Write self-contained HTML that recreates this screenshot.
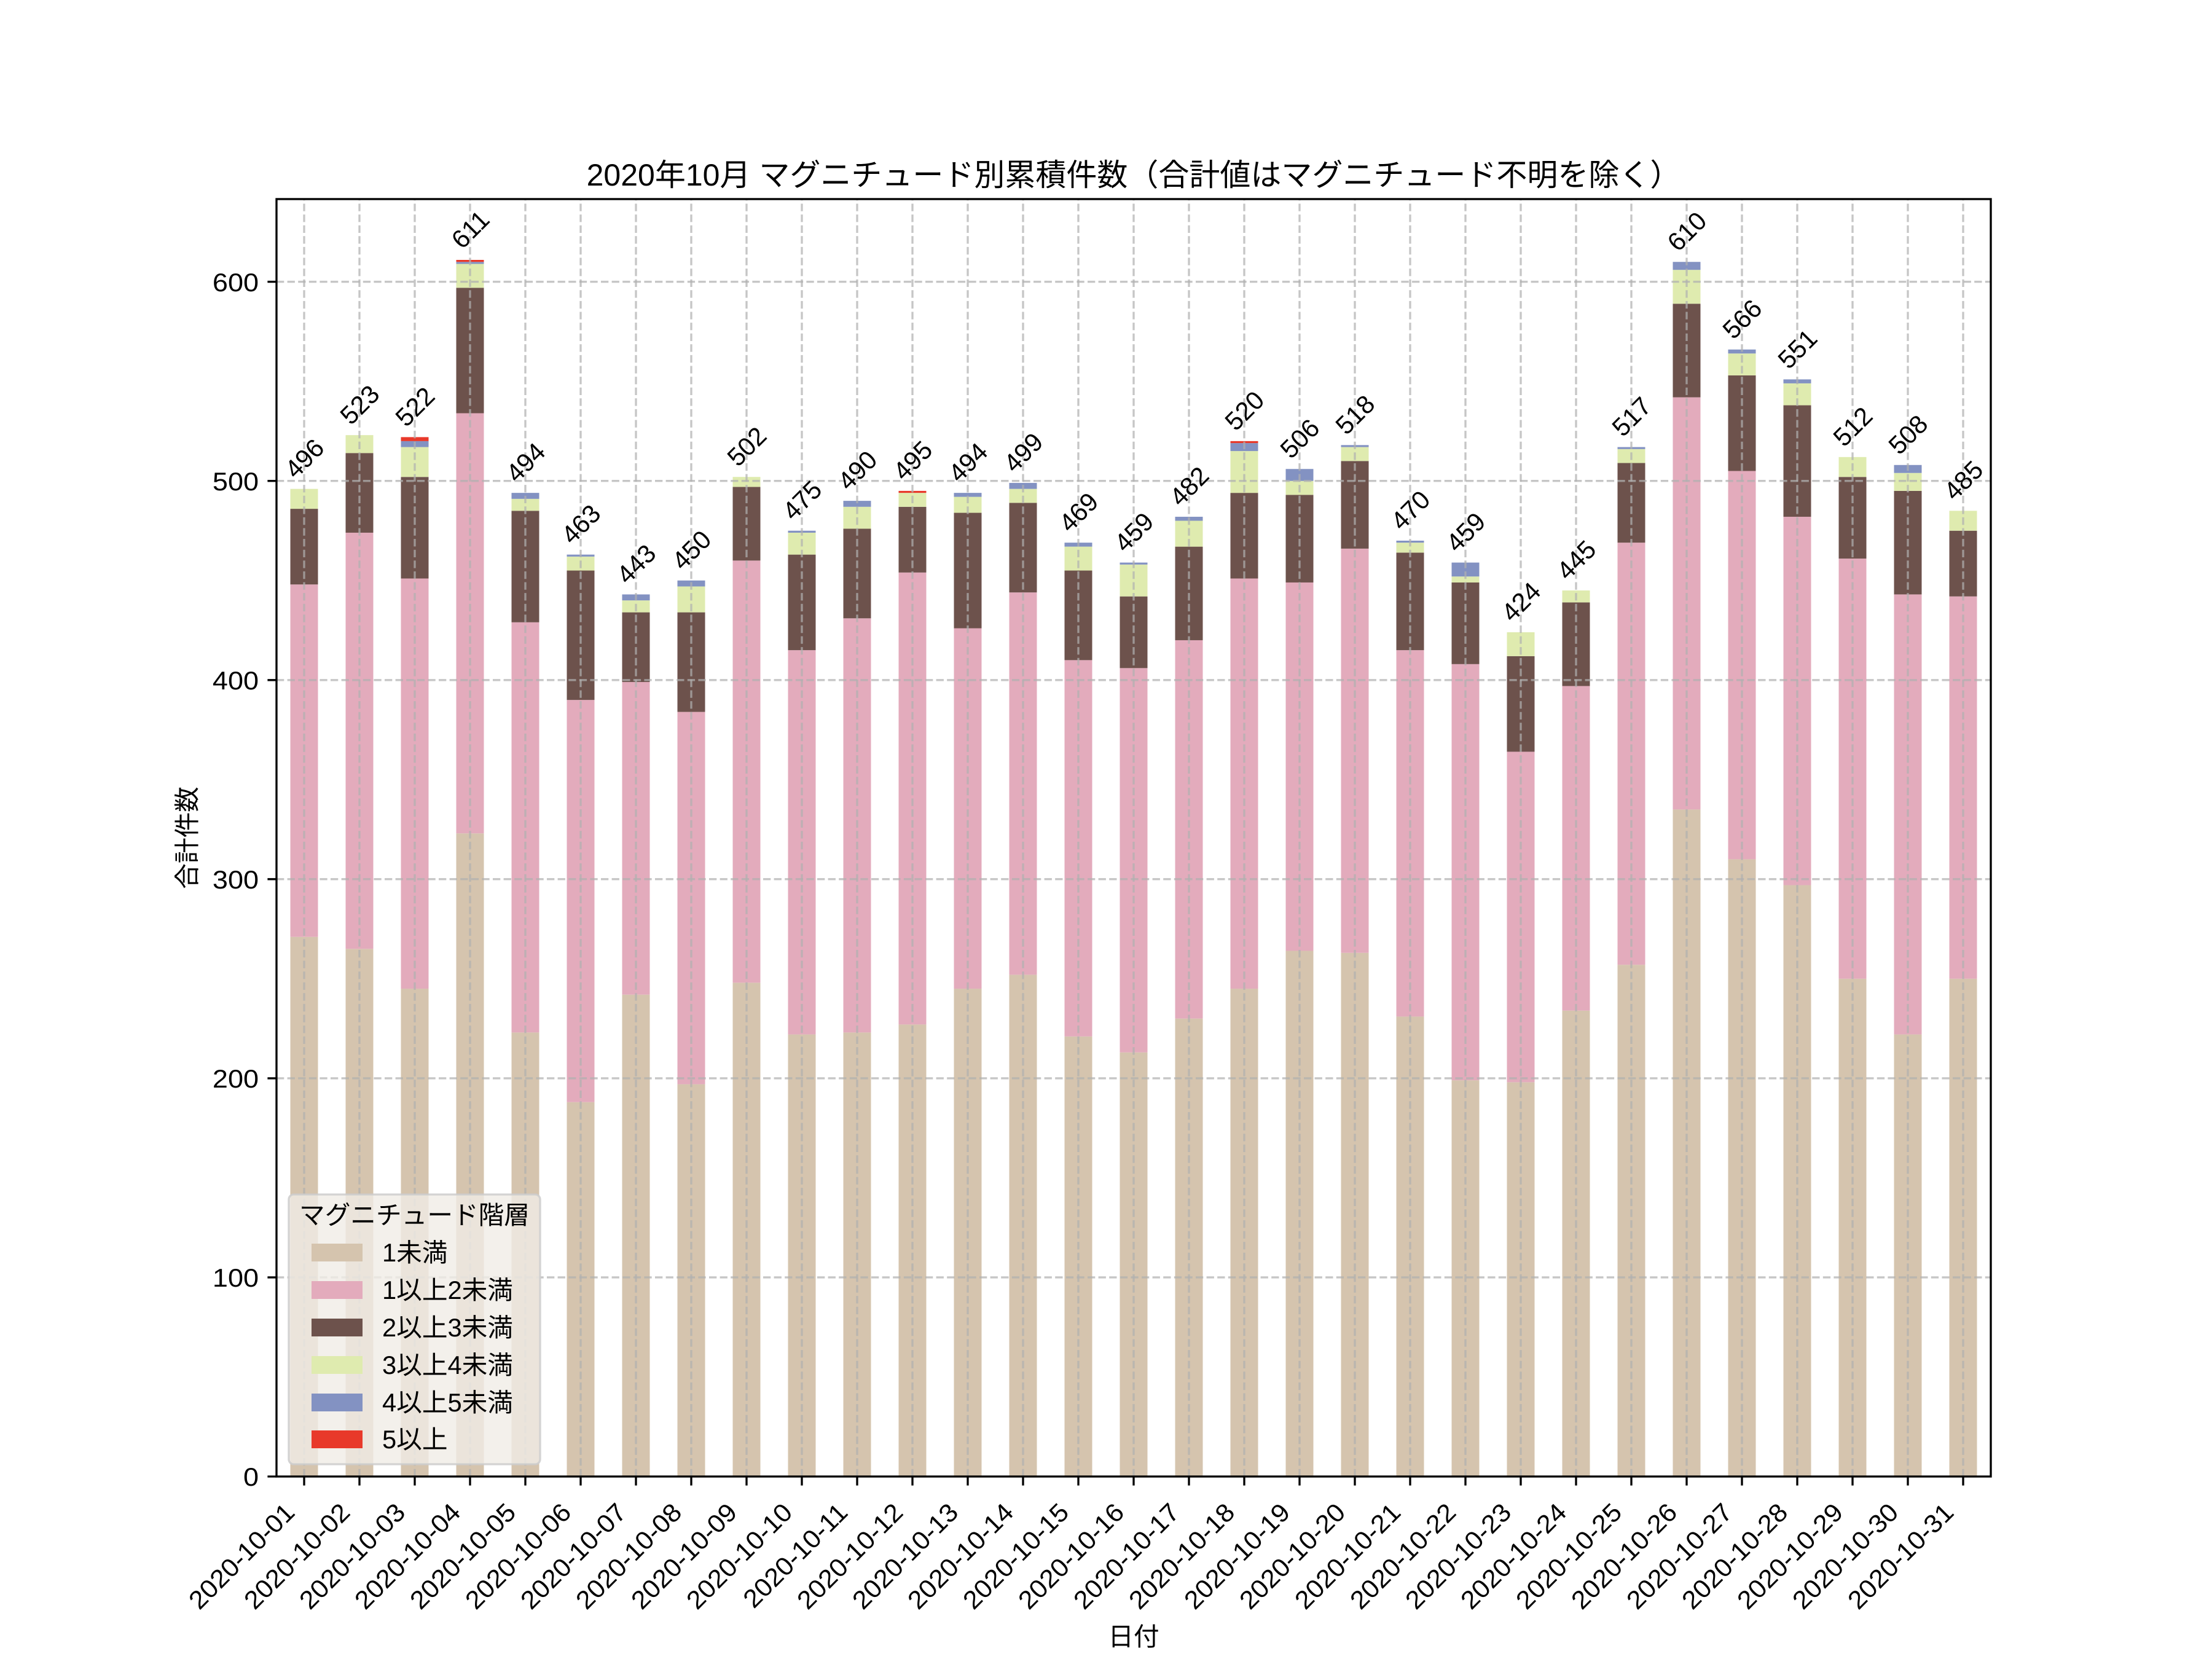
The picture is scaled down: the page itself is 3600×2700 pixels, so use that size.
<!DOCTYPE html>
<html><head><meta charset="utf-8">
<style>
html,body{margin:0;padding:0;background:#fff;}
svg{display:block;}
text{font-family:"Liberation Sans","Noto Sans CJK JP",sans-serif;fill:#000;}
.a{fill:#d5c4ae}.b{fill:#e3abbc}.c{fill:#6d524c}.d{fill:#dfebaf}.e{fill:#8392c2}.f{fill:#e8392a}
.t{font-size:41.67px}
</style></head>
<body>
<svg width="3600" height="2700" viewBox="0 0 3600 2700" xmlns="http://www.w3.org/2000/svg">
<rect x="0" y="0" width="3600" height="2700" fill="#fff"/>
<!-- bars -->
<g transform="translate(495,2403) scale(90,-3.2406)">
<rect class="a" x="-0.25" y="0" width="0.5" height="271"/><rect class="b" x="-0.25" y="271" width="0.5" height="177"/><rect class="c" x="-0.25" y="448" width="0.5" height="38"/><rect class="d" x="-0.25" y="486" width="0.5" height="10"/>
<rect class="a" x="0.75" y="0" width="0.5" height="265"/><rect class="b" x="0.75" y="265" width="0.5" height="209"/><rect class="c" x="0.75" y="474" width="0.5" height="40"/><rect class="d" x="0.75" y="514" width="0.5" height="9"/>
<rect class="a" x="1.75" y="0" width="0.5" height="245"/><rect class="b" x="1.75" y="245" width="0.5" height="206"/><rect class="c" x="1.75" y="451" width="0.5" height="51"/><rect class="d" x="1.75" y="502" width="0.5" height="15"/><rect class="e" x="1.75" y="517" width="0.5" height="3"/><rect class="f" x="1.75" y="520" width="0.5" height="2"/>
<rect class="a" x="2.75" y="0" width="0.5" height="323"/><rect class="b" x="2.75" y="323" width="0.5" height="211"/><rect class="c" x="2.75" y="534" width="0.5" height="63"/><rect class="d" x="2.75" y="597" width="0.5" height="12"/><rect class="e" x="2.75" y="609" width="0.5" height="1"/><rect class="f" x="2.75" y="610" width="0.5" height="1"/>
<rect class="a" x="3.75" y="0" width="0.5" height="223"/><rect class="b" x="3.75" y="223" width="0.5" height="206"/><rect class="c" x="3.75" y="429" width="0.5" height="56"/><rect class="d" x="3.75" y="485" width="0.5" height="6"/><rect class="e" x="3.75" y="491" width="0.5" height="3"/>
<rect class="a" x="4.75" y="0" width="0.5" height="188"/><rect class="b" x="4.75" y="188" width="0.5" height="202"/><rect class="c" x="4.75" y="390" width="0.5" height="65"/><rect class="d" x="4.75" y="455" width="0.5" height="7"/><rect class="e" x="4.75" y="462" width="0.5" height="1"/>
<rect class="a" x="5.75" y="0" width="0.5" height="242"/><rect class="b" x="5.75" y="242" width="0.5" height="157"/><rect class="c" x="5.75" y="399" width="0.5" height="35"/><rect class="d" x="5.75" y="434" width="0.5" height="6"/><rect class="e" x="5.75" y="440" width="0.5" height="3"/>
<rect class="a" x="6.75" y="0" width="0.5" height="197"/><rect class="b" x="6.75" y="197" width="0.5" height="187"/><rect class="c" x="6.75" y="384" width="0.5" height="50"/><rect class="d" x="6.75" y="434" width="0.5" height="13"/><rect class="e" x="6.75" y="447" width="0.5" height="3"/>
<rect class="a" x="7.75" y="0" width="0.5" height="248"/><rect class="b" x="7.75" y="248" width="0.5" height="212"/><rect class="c" x="7.75" y="460" width="0.5" height="37"/><rect class="d" x="7.75" y="497" width="0.5" height="5"/>
<rect class="a" x="8.75" y="0" width="0.5" height="222"/><rect class="b" x="8.75" y="222" width="0.5" height="193"/><rect class="c" x="8.75" y="415" width="0.5" height="48"/><rect class="d" x="8.75" y="463" width="0.5" height="11"/><rect class="e" x="8.75" y="474" width="0.5" height="1"/>
<rect class="a" x="9.75" y="0" width="0.5" height="223"/><rect class="b" x="9.75" y="223" width="0.5" height="208"/><rect class="c" x="9.75" y="431" width="0.5" height="45"/><rect class="d" x="9.75" y="476" width="0.5" height="11"/><rect class="e" x="9.75" y="487" width="0.5" height="3"/>
<rect class="a" x="10.75" y="0" width="0.5" height="227"/><rect class="b" x="10.75" y="227" width="0.5" height="227"/><rect class="c" x="10.75" y="454" width="0.5" height="33"/><rect class="d" x="10.75" y="487" width="0.5" height="7"/><rect class="f" x="10.75" y="494" width="0.5" height="1"/>
<rect class="a" x="11.75" y="0" width="0.5" height="245"/><rect class="b" x="11.75" y="245" width="0.5" height="181"/><rect class="c" x="11.75" y="426" width="0.5" height="58"/><rect class="d" x="11.75" y="484" width="0.5" height="8"/><rect class="e" x="11.75" y="492" width="0.5" height="2"/>
<rect class="a" x="12.75" y="0" width="0.5" height="252"/><rect class="b" x="12.75" y="252" width="0.5" height="192"/><rect class="c" x="12.75" y="444" width="0.5" height="45"/><rect class="d" x="12.75" y="489" width="0.5" height="7"/><rect class="e" x="12.75" y="496" width="0.5" height="3"/>
<rect class="a" x="13.75" y="0" width="0.5" height="221"/><rect class="b" x="13.75" y="221" width="0.5" height="189"/><rect class="c" x="13.75" y="410" width="0.5" height="45"/><rect class="d" x="13.75" y="455" width="0.5" height="12"/><rect class="e" x="13.75" y="467" width="0.5" height="2"/>
<rect class="a" x="14.75" y="0" width="0.5" height="213"/><rect class="b" x="14.75" y="213" width="0.5" height="193"/><rect class="c" x="14.75" y="406" width="0.5" height="36"/><rect class="d" x="14.75" y="442" width="0.5" height="16"/><rect class="e" x="14.75" y="458" width="0.5" height="1"/>
<rect class="a" x="15.75" y="0" width="0.5" height="230"/><rect class="b" x="15.75" y="230" width="0.5" height="190"/><rect class="c" x="15.75" y="420" width="0.5" height="47"/><rect class="d" x="15.75" y="467" width="0.5" height="13"/><rect class="e" x="15.75" y="480" width="0.5" height="2"/>
<rect class="a" x="16.75" y="0" width="0.5" height="245"/><rect class="b" x="16.75" y="245" width="0.5" height="206"/><rect class="c" x="16.75" y="451" width="0.5" height="43"/><rect class="d" x="16.75" y="494" width="0.5" height="21"/><rect class="e" x="16.75" y="515" width="0.5" height="4"/><rect class="f" x="16.75" y="519" width="0.5" height="1"/>
<rect class="a" x="17.75" y="0" width="0.5" height="264"/><rect class="b" x="17.75" y="264" width="0.5" height="185"/><rect class="c" x="17.75" y="449" width="0.5" height="44"/><rect class="d" x="17.75" y="493" width="0.5" height="7"/><rect class="e" x="17.75" y="500" width="0.5" height="6"/>
<rect class="a" x="18.75" y="0" width="0.5" height="263"/><rect class="b" x="18.75" y="263" width="0.5" height="203"/><rect class="c" x="18.75" y="466" width="0.5" height="44"/><rect class="d" x="18.75" y="510" width="0.5" height="7"/><rect class="e" x="18.75" y="517" width="0.5" height="1"/>
<rect class="a" x="19.75" y="0" width="0.5" height="231"/><rect class="b" x="19.75" y="231" width="0.5" height="184"/><rect class="c" x="19.75" y="415" width="0.5" height="49"/><rect class="d" x="19.75" y="464" width="0.5" height="5"/><rect class="e" x="19.75" y="469" width="0.5" height="1"/>
<rect class="a" x="20.75" y="0" width="0.5" height="199"/><rect class="b" x="20.75" y="199" width="0.5" height="209"/><rect class="c" x="20.75" y="408" width="0.5" height="41"/><rect class="d" x="20.75" y="449" width="0.5" height="3"/><rect class="e" x="20.75" y="452" width="0.5" height="7"/>
<rect class="a" x="21.75" y="0" width="0.5" height="198"/><rect class="b" x="21.75" y="198" width="0.5" height="166"/><rect class="c" x="21.75" y="364" width="0.5" height="48"/><rect class="d" x="21.75" y="412" width="0.5" height="12"/>
<rect class="a" x="22.75" y="0" width="0.5" height="234"/><rect class="b" x="22.75" y="234" width="0.5" height="163"/><rect class="c" x="22.75" y="397" width="0.5" height="42"/><rect class="d" x="22.75" y="439" width="0.5" height="6"/>
<rect class="a" x="23.75" y="0" width="0.5" height="257"/><rect class="b" x="23.75" y="257" width="0.5" height="212"/><rect class="c" x="23.75" y="469" width="0.5" height="40"/><rect class="d" x="23.75" y="509" width="0.5" height="7"/><rect class="e" x="23.75" y="516" width="0.5" height="1"/>
<rect class="a" x="24.75" y="0" width="0.5" height="335"/><rect class="b" x="24.75" y="335" width="0.5" height="207"/><rect class="c" x="24.75" y="542" width="0.5" height="47"/><rect class="d" x="24.75" y="589" width="0.5" height="17"/><rect class="e" x="24.75" y="606" width="0.5" height="4"/>
<rect class="a" x="25.75" y="0" width="0.5" height="310"/><rect class="b" x="25.75" y="310" width="0.5" height="195"/><rect class="c" x="25.75" y="505" width="0.5" height="48"/><rect class="d" x="25.75" y="553" width="0.5" height="11"/><rect class="e" x="25.75" y="564" width="0.5" height="2"/>
<rect class="a" x="26.75" y="0" width="0.5" height="297"/><rect class="b" x="26.75" y="297" width="0.5" height="185"/><rect class="c" x="26.75" y="482" width="0.5" height="56"/><rect class="d" x="26.75" y="538" width="0.5" height="11"/><rect class="e" x="26.75" y="549" width="0.5" height="2"/>
<rect class="a" x="27.75" y="0" width="0.5" height="250"/><rect class="b" x="27.75" y="250" width="0.5" height="211"/><rect class="c" x="27.75" y="461" width="0.5" height="41"/><rect class="d" x="27.75" y="502" width="0.5" height="10"/>
<rect class="a" x="28.75" y="0" width="0.5" height="222"/><rect class="b" x="28.75" y="222" width="0.5" height="221"/><rect class="c" x="28.75" y="443" width="0.5" height="52"/><rect class="d" x="28.75" y="495" width="0.5" height="9"/><rect class="e" x="28.75" y="504" width="0.5" height="4"/>
<rect class="a" x="29.75" y="0" width="0.5" height="250"/><rect class="b" x="29.75" y="250" width="0.5" height="192"/><rect class="c" x="29.75" y="442" width="0.5" height="33"/><rect class="d" x="29.75" y="475" width="0.5" height="10"/>
</g>
<!-- grid -->
<g stroke="#b0b0b0" stroke-opacity="0.72" stroke-width="3.33" stroke-dasharray="12.3 5.3" fill="none">
<path d="M495 2403V324M585 2403V324M675 2403V324M765 2403V324M855 2403V324M945 2403V324M1035 2403V324M1125 2403V324M1215 2403V324M1305 2403V324M1395 2403V324M1485 2403V324M1575 2403V324M1665 2403V324M1755 2403V324M1845 2403V324M1935 2403V324M2025 2403V324M2115 2403V324M2205 2403V324M2295 2403V324M2385 2403V324M2475 2403V324M2565 2403V324M2655 2403V324M2745 2403V324M2835 2403V324M2925 2403V324M3015 2403V324M3105 2403V324M3195 2403V324"/>
<path d="M450 2078.9H3240M450 1754.9H3240M450 1430.8H3240M450 1106.8H3240M450 782.7H3240M450 458.6H3240"/>
</g>
<!-- bar value labels -->
<g class="t" text-anchor="middle">
<text transform="translate(495,745.7) rotate(-45)" y="15">496</text>
<text transform="translate(585,658.2) rotate(-45)" y="15">523</text>
<text transform="translate(675,661.4) rotate(-45)" y="15">522</text>
<text transform="translate(765,373) rotate(-45)" y="15">611</text>
<text transform="translate(855,752.1) rotate(-45)" y="15">494</text>
<text transform="translate(945,852.6) rotate(-45)" y="15">463</text>
<text transform="translate(1035,917.4) rotate(-45)" y="15">443</text>
<text transform="translate(1125,894.7) rotate(-45)" y="15">450</text>
<text transform="translate(1215,726.2) rotate(-45)" y="15">502</text>
<text transform="translate(1305,813.7) rotate(-45)" y="15">475</text>
<text transform="translate(1395,765.1) rotate(-45)" y="15">490</text>
<text transform="translate(1485,748.9) rotate(-45)" y="15">495</text>
<text transform="translate(1575,752.1) rotate(-45)" y="15">494</text>
<text transform="translate(1665,735.9) rotate(-45)" y="15">499</text>
<text transform="translate(1755,833.2) rotate(-45)" y="15">469</text>
<text transform="translate(1845,865.6) rotate(-45)" y="15">459</text>
<text transform="translate(1935,791) rotate(-45)" y="15">482</text>
<text transform="translate(2025,667.9) rotate(-45)" y="15">520</text>
<text transform="translate(2115,713.3) rotate(-45)" y="15">506</text>
<text transform="translate(2205,674.4) rotate(-45)" y="15">518</text>
<text transform="translate(2295,829.9) rotate(-45)" y="15">470</text>
<text transform="translate(2385,865.6) rotate(-45)" y="15">459</text>
<text transform="translate(2475,979) rotate(-45)" y="15">424</text>
<text transform="translate(2565,910.9) rotate(-45)" y="15">445</text>
<text transform="translate(2655,677.6) rotate(-45)" y="15">517</text>
<text transform="translate(2745,376.2) rotate(-45)" y="15">610</text>
<text transform="translate(2835,518.8) rotate(-45)" y="15">566</text>
<text transform="translate(2925,567.4) rotate(-45)" y="15">551</text>
<text transform="translate(3015,693.8) rotate(-45)" y="15">512</text>
<text transform="translate(3105,706.8) rotate(-45)" y="15">508</text>
<text transform="translate(3195,781.3) rotate(-45)" y="15">485</text>
</g>
<!-- spines -->
<rect x="450" y="324" width="2790" height="2079" fill="none" stroke="#000" stroke-width="3.33"/>
<!-- ticks -->
<g stroke="#000" stroke-width="3.33">
<path d="M495 2403v14.6M585 2403v14.6M675 2403v14.6M765 2403v14.6M855 2403v14.6M945 2403v14.6M1035 2403v14.6M1125 2403v14.6M1215 2403v14.6M1305 2403v14.6M1395 2403v14.6M1485 2403v14.6M1575 2403v14.6M1665 2403v14.6M1755 2403v14.6M1845 2403v14.6M1935 2403v14.6M2025 2403v14.6M2115 2403v14.6M2205 2403v14.6M2295 2403v14.6M2385 2403v14.6M2475 2403v14.6M2565 2403v14.6M2655 2403v14.6M2745 2403v14.6M2835 2403v14.6M2925 2403v14.6M3015 2403v14.6M3105 2403v14.6M3195 2403v14.6"/>
<path d="M450 2403h-14.6M450 2078.9h-14.6M450 1754.9h-14.6M450 1430.8h-14.6M450 1106.8h-14.6M450 782.7h-14.6M450 458.6h-14.6"/>
</g>
<!-- y tick labels -->
<g class="t" text-anchor="end">
<text transform="translate(421,2418) scale(1.08,1)">0</text>
<text transform="translate(421,2094) scale(1.08,1)">100</text>
<text transform="translate(421,1770) scale(1.08,1)">200</text>
<text transform="translate(421,1446) scale(1.08,1)">300</text>
<text transform="translate(421,1122) scale(1.08,1)">400</text>
<text transform="translate(421,798) scale(1.08,1)">500</text>
<text transform="translate(421,474) scale(1.08,1)">600</text>
</g>
<!-- x tick labels -->
<g class="t" text-anchor="end">
<text transform="translate(482,2464) rotate(-45) scale(1.045,1)">2020-10-01</text>
<text transform="translate(572,2464) rotate(-45) scale(1.045,1)">2020-10-02</text>
<text transform="translate(662,2464) rotate(-45) scale(1.045,1)">2020-10-03</text>
<text transform="translate(752,2464) rotate(-45) scale(1.045,1)">2020-10-04</text>
<text transform="translate(842,2464) rotate(-45) scale(1.045,1)">2020-10-05</text>
<text transform="translate(932,2464) rotate(-45) scale(1.045,1)">2020-10-06</text>
<text transform="translate(1022,2464) rotate(-45) scale(1.045,1)">2020-10-07</text>
<text transform="translate(1112,2464) rotate(-45) scale(1.045,1)">2020-10-08</text>
<text transform="translate(1202,2464) rotate(-45) scale(1.045,1)">2020-10-09</text>
<text transform="translate(1292,2464) rotate(-45) scale(1.045,1)">2020-10-10</text>
<text transform="translate(1382,2464) rotate(-45) scale(1.045,1)">2020-10-11</text>
<text transform="translate(1472,2464) rotate(-45) scale(1.045,1)">2020-10-12</text>
<text transform="translate(1562,2464) rotate(-45) scale(1.045,1)">2020-10-13</text>
<text transform="translate(1652,2464) rotate(-45) scale(1.045,1)">2020-10-14</text>
<text transform="translate(1742,2464) rotate(-45) scale(1.045,1)">2020-10-15</text>
<text transform="translate(1832,2464) rotate(-45) scale(1.045,1)">2020-10-16</text>
<text transform="translate(1922,2464) rotate(-45) scale(1.045,1)">2020-10-17</text>
<text transform="translate(2012,2464) rotate(-45) scale(1.045,1)">2020-10-18</text>
<text transform="translate(2102,2464) rotate(-45) scale(1.045,1)">2020-10-19</text>
<text transform="translate(2192,2464) rotate(-45) scale(1.045,1)">2020-10-20</text>
<text transform="translate(2282,2464) rotate(-45) scale(1.045,1)">2020-10-21</text>
<text transform="translate(2372,2464) rotate(-45) scale(1.045,1)">2020-10-22</text>
<text transform="translate(2462,2464) rotate(-45) scale(1.045,1)">2020-10-23</text>
<text transform="translate(2552,2464) rotate(-45) scale(1.045,1)">2020-10-24</text>
<text transform="translate(2642,2464) rotate(-45) scale(1.045,1)">2020-10-25</text>
<text transform="translate(2732,2464) rotate(-45) scale(1.045,1)">2020-10-26</text>
<text transform="translate(2822,2464) rotate(-45) scale(1.045,1)">2020-10-27</text>
<text transform="translate(2912,2464) rotate(-45) scale(1.045,1)">2020-10-28</text>
<text transform="translate(3002,2464) rotate(-45) scale(1.045,1)">2020-10-29</text>
<text transform="translate(3092,2464) rotate(-45) scale(1.045,1)">2020-10-30</text>
<text transform="translate(3182,2464) rotate(-45) scale(1.045,1)">2020-10-31</text>
</g>
<!-- axis labels & title -->
<text class="t" x="1845" y="2678" text-anchor="middle">日付</text>
<text class="t" transform="translate(319,1363.5) rotate(-90)" text-anchor="middle">合計件数</text>
<text x="1845" y="302" text-anchor="middle" style="font-size:50px">2020年10月 マグニチュード別累積件数（合計値はマグニチュード不明を除く）</text>
<!-- legend -->
<rect x="470" y="1944" width="409" height="439" rx="8" ry="8" fill="rgb(240,236,230)" fill-opacity="0.8" stroke="#cccccc" stroke-opacity="0.85" stroke-width="3.33"/>
<text class="t" x="674.5" y="1992" text-anchor="middle">マグニチュード階層</text>
<rect class="a" x="507" y="2024" width="83" height="29"/>
<rect class="b" x="507" y="2085" width="83" height="29"/>
<rect class="c" x="507" y="2146" width="83" height="29"/>
<rect class="d" x="507" y="2207" width="83" height="29"/>
<rect class="e" x="507" y="2268" width="83" height="29"/>
<rect class="f" x="507" y="2328" width="83" height="29"/>
<g class="t">
<text x="622" y="2053">1未満</text>
<text x="622" y="2114">1以上2未満</text>
<text x="622" y="2175">2以上3未満</text>
<text x="622" y="2236">3以上4未満</text>
<text x="622" y="2297">4以上5未満</text>
<text x="622" y="2357">5以上</text>
</g>
</svg>
</body></html>
